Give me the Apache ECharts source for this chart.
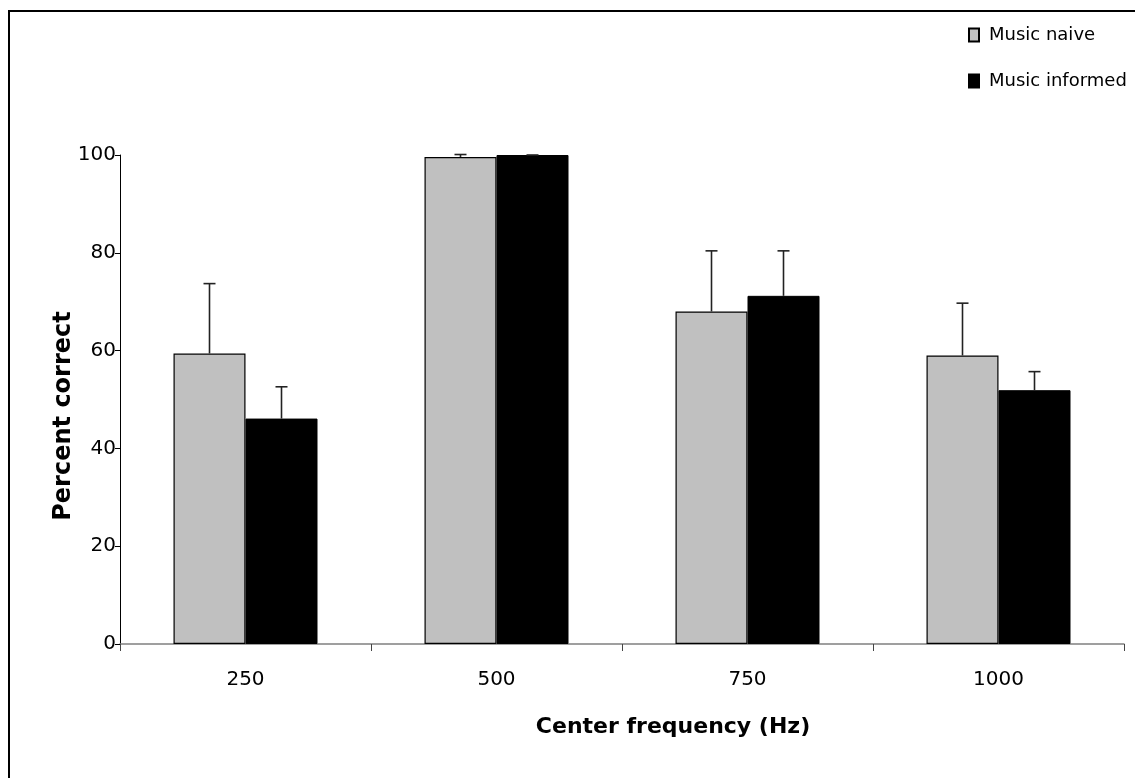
<!DOCTYPE html>
<html>
<head>
<meta charset="utf-8">
<script src="https://cdn.jsdelivr.net/npm/echarts@6/dist/echarts.min.js"></script>
<style>
  html, body { margin: 0; padding: 0; background: #fff; }
  #chart { width: 1135px; height: 778px; }
</style>
</head>
<body>
<div id="chart"></div>
<script>
// categories and values
var categories = ['250', '500', '750', '1000'];
var naiveMean = [59.4, 99.6, 68.0, 59.0];
var naiveSD = [14.3, 0.5, 12.4, 10.7];
var informedMean = [46.1, 100, 71.2, 51.9];
var informedSD = [6.5, 0, 9.2, 3.8];

var FONT = 'DejaVu Sans';
var BAR_W = 72;

// error bar points: [category index, mean, mean + sd]
function errData(mean, sd) {
    var out = [];
    for (var i = 0; i < mean.length; i++) {
        out.push([i, mean[i], mean[i] + sd[i]]);
    }
    return out;
}

function errRender(offset) {
    return function (params, api) {
        var base = api.coord([api.value(0), api.value(1)]);
        var top = api.coord([api.value(0), api.value(2)]);
        var x = base[0] + offset;
        var cap = 6;
        return {
            type: 'group',
            children: [
                { type: 'line', shape: { x1: x, y1: base[1], x2: x, y2: top[1] },
                  style: { stroke: '#222', lineWidth: 1.6 } },
                { type: 'line', shape: { x1: x - cap, y1: top[1], x2: x + cap, y2: top[1] },
                  style: { stroke: '#222', lineWidth: 1.6 } }
            ]
        };
    };
}

var chart = echarts.init(document.getElementById('chart'));

var option = {
    animation: false,
    backgroundColor: '#fff',
    grid: { left: 120, right: 11, top: 155, bottom: 134, containLabel: false },
    legend: {
        data: ['Music naive', 'Music informed'],
        orient: 'vertical',
        left: 963,
        top: 21,
        itemGap: 28,
        itemWidth: 10,
        itemHeight: 13,
        icon: 'rect',
        textStyle: { fontFamily: FONT, fontSize: 18, color: '#000', padding: [0, 0, 0, 5] }
    },
    xAxis: {
        type: 'category',
        data: categories,
        axisLine: { lineStyle: { color: '#808080', width: 1.5 } },
        axisTick: { show: true, length: 7, lineStyle: { color: '#444' } },
        axisLabel: { fontFamily: FONT, fontSize: 20, color: '#000', margin: 26 },
        splitLine: { show: false }
    },
    yAxis: {
        type: 'value',
        min: 0,
        max: 100,
        interval: 20,
        axisLine: { show: true, lineStyle: { color: '#000', width: 1 } },
        axisTick: { show: true, length: 5, lineStyle: { color: '#000' } },
        axisLabel: { fontFamily: FONT, fontSize: 20, color: '#000', margin: 4 },
        splitLine: { show: false }
    },
    graphic: [
        {
            type: 'rect',
            shape: { x: 9, y: 11, width: 1300, height: 1000 },
            style: { fill: 'none', stroke: '#000', lineWidth: 2 },
            silent: true
        },
        {
            type: 'text',
            x: 64,
            y: 416,
            rotation: Math.PI / 2,
            style: {
                text: 'Percent correct',
                font: 'bold 24px "DejaVu Sans"',
                fill: '#000',
                align: 'center',
                verticalAlign: 'middle'
            }
        },
        {
            type: 'text',
            x: 673,
            y: 727,
            style: {
                text: 'Center frequency (Hz)',
                font: 'bold 22px "DejaVu Sans"',
                fill: '#000',
                align: 'center',
                verticalAlign: 'middle'
            }
        }
    ],
    series: [
        {
            name: 'Music naive',
            type: 'bar',
            data: naiveMean,
            barWidth: BAR_W,
            barGap: '0%',
            itemStyle: { color: '#c0c0c0', borderColor: '#000', borderWidth: 1.2 }
        },
        {
            name: 'Music informed',
            type: 'bar',
            data: informedMean,
            barWidth: BAR_W,
            barGap: '0%',
            itemStyle: { color: '#000', borderColor: '#000', borderWidth: 1 }
        },
        {
            name: 'naive error',
            type: 'custom',
            renderItem: errRender(-BAR_W / 2),
            encode: { x: 0, y: [1, 2] },
            data: errData(naiveMean, naiveSD),
            z: 3
        },
        {
            name: 'informed error',
            type: 'custom',
            renderItem: errRender(BAR_W / 2),
            encode: { x: 0, y: [1, 2] },
            data: errData(informedMean, informedSD),
            z: 3
        }
    ]
};

chart.setOption(option);
</script>
</body>
</html>
